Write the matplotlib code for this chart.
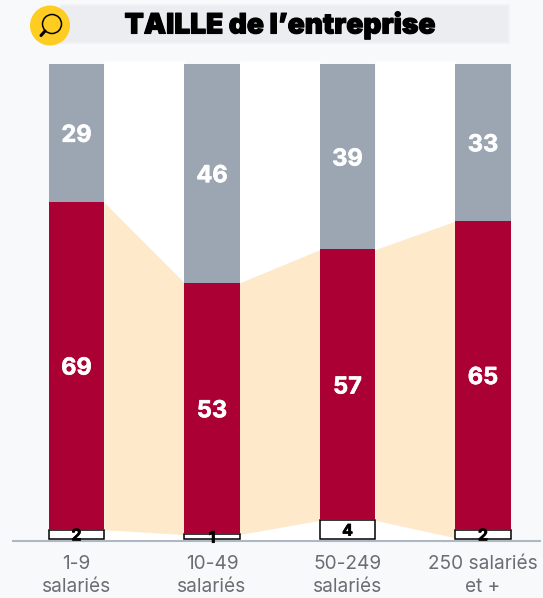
"""TAILLE de l'entreprise: stacked bars with ribbons between them."""

import matplotlib
matplotlib.use('Agg')
import matplotlib.pyplot as plt
import matplotlib.patheffects as pe
import numpy as np
from matplotlib.patches import Circle, Rectangle

W, H = 543, 598

categories = ['1-9\nsalariés', '10-49\nsalariés', '50-249\nsalariés', '250 salariés\net +']
low_values = [2, 1, 4, 2]
mid_values = [69, 53, 57, 65]
top_values = [29, 46, 39, 33]
# lower edge of each ribbon at its left and right end
ribbon_low_left = [2, 1, 4]
ribbon_low_right = [1, 4, 0.3]
title = 'TAILLE de l’entreprise'

BG = '#F8F9FB'
RED = '#AB0033'
GREY = '#9CA6B3'
RIBBON = '#FFE9CB'
AXIS = '#AEB8C4'

plt.rcParams['font.family'] = ['Inter', 'Open Sans', 'DejaVu Sans']

fig = plt.figure(figsize=(W / 100, H / 100), dpi=100, facecolor=BG)

# y: 0 at px 539.2, 4.75 px per unit / x: bar centres 135.5 px apart, first at px 76.5
left, right, base, top = 13, 540, 539.2, 61
ax = fig.add_axes([left / W, 1 - base / H, (right - left) / W, (base - top) / H])
ax.patch.set_alpha(0)
ax.set_xlim(-(76.5 - left) / 135.5, 3 + (right - 483) / 135.5)
ax.set_ylim(0, (base - top) / 4.75)

x = np.arange(len(categories))
low = np.array(low_values)
mid = np.array(mid_values)
upper = np.array(top_values)
bar_w = 0.406

# ribbons run from the right edge of one bar to the left edge of the next
for i in range(len(x) - 1):
    xs = [x[i] + bar_w / 2, x[i + 1] - bar_w / 2]
    ys_low = [ribbon_low_left[i], ribbon_low_right[i]]
    ys_mid = [low[i] + mid[i], low[i + 1] + mid[i + 1]]
    ax.fill_between(xs, 0, ys_low, color='white', lw=0, zorder=1)
    ax.fill_between(xs, ys_low, ys_mid, color=RIBBON, lw=0, zorder=1)
    ax.fill_between(xs, ys_mid, ax.get_ylim()[1], color='white', lw=0, zorder=1)

ax.bar(x, low, bar_w, color='white', edgecolor='black', lw=1.1, zorder=2, clip_on=False)
ax.bar(x, mid, bar_w, bottom=low, color=RED, lw=0, zorder=3)
ax.bar(x, upper, bar_w, bottom=low + mid, color=GREY, lw=0, zorder=3)

heavy = [pe.withStroke(linewidth=0.4, foreground='white')]
for i in x:
    ax.annotate(str(low[i]), (i, low[i] / 2), xytext=(0, -1), textcoords='offset points',
                ha='center', va='center', fontsize=11.5, fontweight='bold', color='black',
                zorder=5, annotation_clip=False,
                path_effects=[pe.withStroke(linewidth=0.5, foreground='black')])
    ax.annotate(str(mid[i]), (i, low[i] + mid[i] / 2), xytext=(0, -2), textcoords='offset points',
                ha='center', va='center', fontsize=17, fontweight='bold', color='white',
                zorder=5, path_effects=heavy)
    ax.annotate(str(upper[i]), (i, low[i] + mid[i] + upper[i] / 2), xytext=(0, -2),
                textcoords='offset points', ha='center', va='center', fontsize=17,
                fontweight='bold', color='white', zorder=5, path_effects=heavy)

for s in ['top', 'left', 'right']:
    ax.spines[s].set_visible(False)
ax.spines['bottom'].set_color(AXIS)
ax.spines['bottom'].set_linewidth(1.5)
ax.spines['bottom'].set_position(('outward', 1))
ax.spines['bottom'].set_zorder(0.5)
ax.set_yticks([])
ax.set_xticks(x)
ax.set_xticklabels(categories, fontsize=13.7, color='#6A6E74', linespacing=1.32)
ax.tick_params(axis='x', length=0, pad=10.5)

# ── Header band and magnifier, in pixel coordinates ──────────────────────────
hd = fig.add_axes([0, 0, 1, 1])
hd.set_xlim(0, W)
hd.set_ylim(H, 0)
hd.axis('off')
hd.patch.set_alpha(0)
hd.add_patch(Rectangle((60, 3.5), 450, 40.5, facecolor='#F1F2F5', lw=0))
hd.add_patch(Rectangle((60, 6), 448, 35.5, facecolor='#ECEDF1', lw=0))
hd.add_patch(Circle((50, 25.5), 20, facecolor='#FFCC22', lw=0))
hd.add_patch(Circle((52, 24), 9.5, facecolor='none', edgecolor='black', lw=1.1))
hd.plot([45, 41], [31, 35.5], color='black', lw=2.2, solid_capstyle='round')
hd.text(280, 25, title, ha='center', va='center', fontsize=20.2, fontweight='black',
        color='black', path_effects=[pe.withStroke(linewidth=0.8, foreground='black')])

fig.savefig('out.png', dpi=100, facecolor=BG)
